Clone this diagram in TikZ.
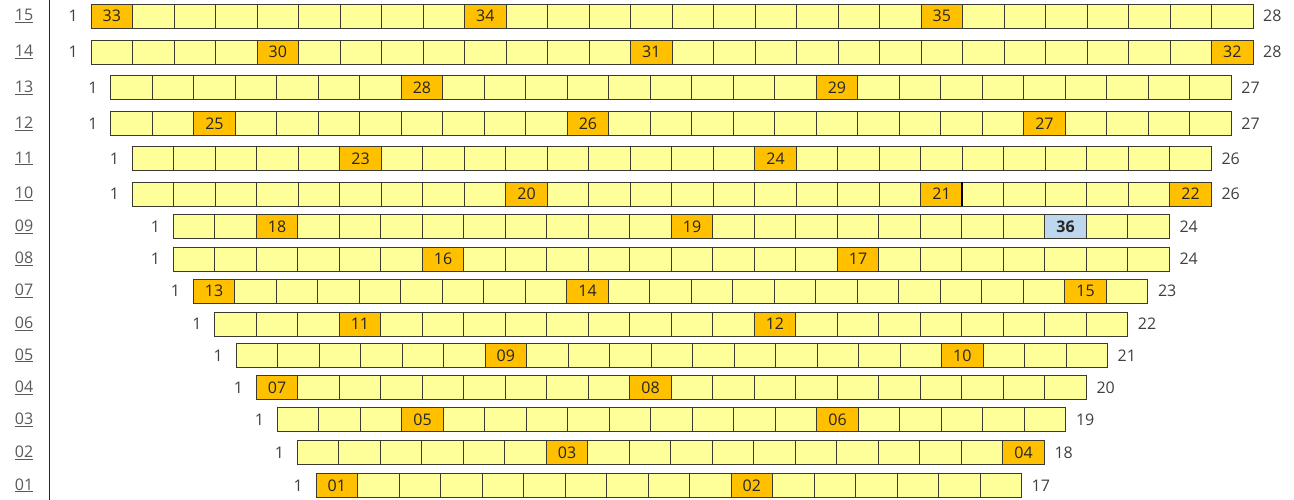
\documentclass[tikz,border=0pt]{standalone}
\usepackage{fontspec}
\setmainfont{Open Sans}
\definecolor{cy}{HTML}{FFFF99}
\definecolor{co}{HTML}{FFC000}
\definecolor{cb}{HTML}{BDD7EE}
\definecolor{cline}{HTML}{3A3A30}
\definecolor{ctxt}{HTML}{262626}
\definecolor{cnum}{HTML}{404040}
\definecolor{clab}{HTML}{595959}
\newcommand\hlo[3]{\expandafter\gdef\csname hlo-#1-#2\endcsname{#3}}
\newcommand\hlb[3]{\expandafter\gdef\csname hlb-#1-#2\endcsname{#3}}
\hlo{15}{1}{33}\hlo{15}{10}{34}\hlo{15}{21}{35}
\hlo{14}{5}{30}\hlo{14}{14}{31}\hlo{14}{28}{32}
\hlo{13}{8}{28}\hlo{13}{18}{29}
\hlo{12}{3}{25}\hlo{12}{12}{26}\hlo{12}{23}{27}
\hlo{11}{6}{23}\hlo{11}{16}{24}
\hlo{10}{10}{20}\hlo{10}{20}{21}\hlo{10}{26}{22}
\hlo{09}{3}{18}\hlo{09}{13}{19}\hlb{09}{22}{36}
\hlo{08}{7}{16}\hlo{08}{17}{17}
\hlo{07}{1}{13}\hlo{07}{10}{14}\hlo{07}{22}{15}
\hlo{06}{4}{11}\hlo{06}{14}{12}
\hlo{05}{7}{09}\hlo{05}{18}{10}
\hlo{04}{1}{07}\hlo{04}{10}{08}
\hlo{03}{4}{05}\hlo{03}{14}{06}
\hlo{02}{7}{03}\hlo{02}{18}{04}
\hlo{01}{1}{01}\hlo{01}{11}{02}
\begin{document}
\begin{tikzpicture}[x=1pt,y=-1pt,
  cellbox/.style={draw=cline, line width=0.9pt, minimum width=41.5pt, minimum height=24pt,
    inner sep=0pt, outer sep=0pt, anchor=north west, font=\fontsize{16}{19}\selectfont, text=ctxt},
  ycell/.style={cellbox, fill=cy},
  ocell/.style={cellbox, fill=co},
  bcell/.style={cellbox, fill=cb, font=\fontsize{16}{19}\selectfont\bfseries},
  numlab/.style={inner sep=0pt, font=\fontsize{16}{19}\selectfont, text=cnum},
  rowlab/.style={inner sep=0pt, font=\fontsize{16}{19}\selectfont, text=clab}]
\useasboundingbox (0,0) rectangle (1294,500);
\foreach \r/\y/\xs/\n in {15/4/91/28, 14/40/91/28, 13/75.7/110.7/27, 12/111.7/110.7/27,
  11/146.3/132.3/26, 10/182/132.3/26, 09/214.7/173.3/24, 08/247/173.3/24,
  07/279/193.3/23, 06/312/214.7/22, 05/343.3/236/21, 04/375.7/256.3/20,
  03/407.7/277.3/19, 02/440.7/297.3/18, 01/473.3/316/17} {
  \foreach \i in {1,...,\n} {
    \pgfmathsetmacro\cx{\xs+(\i-1)*41.5}
    \ifcsname hlo-\r-\i\endcsname
      \node[ocell] (c\r-\i) at (\cx,\y) {\csname hlo-\r-\i\endcsname};
    \else\ifcsname hlb-\r-\i\endcsname
      \node[bcell] (c\r-\i) at (\cx,\y) {\csname hlb-\r-\i\endcsname};
    \else
      \node[ycell] (c\r-\i) at (\cx,\y) {};
    \fi\fi
  }
  \pgfmathsetmacro\ex{\xs+\n*41.5+10}
  \node[numlab, anchor=east] (l\r) at (\xs-13, \y+12) {1};
  \node[numlab, anchor=west] (r\r) at (\ex, \y+12) {\n};
  \node[rowlab] (rl\r) at (24, \y+12) {\underline{\r}};
}
\draw[line width=2pt, black] (c10-20.north east) -- (c10-20.south east);
\coordinate (vt) at (49.3,0);
\coordinate (vb) at (49.3,500);
\draw[line width=1pt, ctxt] (vt) -- (vb);
\end{tikzpicture}
\end{document}
